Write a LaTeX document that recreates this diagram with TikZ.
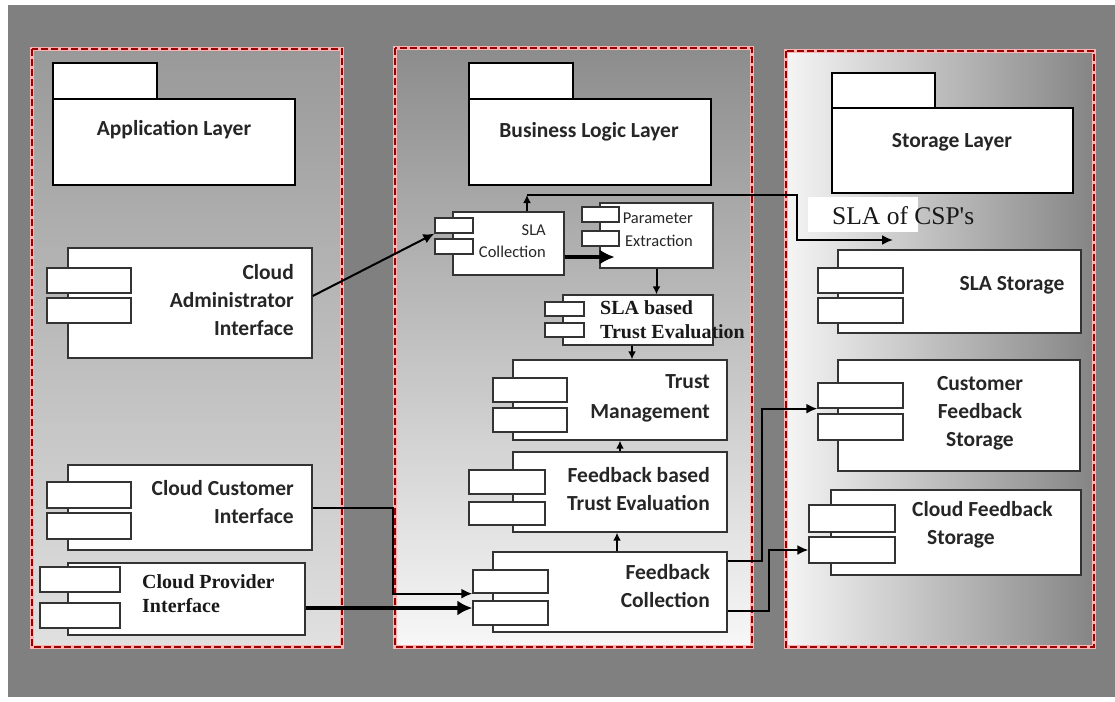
\documentclass[tikz,border=0pt]{standalone}
\usepackage{fontspec}
\setmainfont{Liberation Serif}
\setsansfont{Carlito}
\usepackage{tikz}
\usetikzlibrary{arrows.meta}

\begin{document}
\begin{tikzpicture}[x=1pt,y=-1pt,
    comp/.style={draw=black!80, fill=white, line width=1.4pt, inner sep=0pt},
    lug/.style={draw=black!80, fill=white, line width=1.3pt, inner sep=0pt},
    pkg/.style={draw=black, fill=white, line width=2.6pt, inner sep=0pt},
    layer/.style={draw=red!60!black, dash pattern=on 7pt off 3pt, line width=2.6pt},
    halo/.style={draw=white!70!red, line width=3.6pt},
    txt/.style={font=\sffamily\bfseries\fontsize{21.5}{28}\selectfont, text=black!85, inner sep=0pt},
    small/.style={font=\sffamily\fontsize{16.5}{22.5}\selectfont, text=black!85, inner sep=0pt},
    serif/.style={font=\rmfamily\bfseries\fontsize{20}{24}\selectfont, text=black!90, inner sep=0pt},
    arr/.style={line width=2pt, -{Latex[length=11pt,width=10pt]}},
    fatarr/.style={line width=3.4pt, -{Latex[length=15pt,width=15pt]}},
    tinyarr/.style={line width=2pt, -{Latex[length=8pt,width=8pt]}}]
    \useasboundingbox (0,0) rectangle (1115,701);
    \fill[white] (0,0) rectangle (1115,701);
    \fill[black!50] (8,5) rectangle (1115,697);

    % the three layers
    \shade[top color=black!40, bottom color=black!12] (32,49) rectangle (342,647);
    \draw[halo] (32,49) rectangle (342,647);
    \draw[layer] (32,49) rectangle (342,647);
    \shade[top color=black!45, bottom color=black!3] (395,48) rectangle (752,647);
    \draw[halo] (395,48) rectangle (752,647);
    \draw[layer] (395,48) rectangle (752,647);
    \shade[left color=black!4, right color=black!48] (786,51) rectangle (1094,647);
    \draw[halo] (786,51) rectangle (1094,647);
    \draw[layer] (786,51) rectangle (1094,647);

    % package headers
    \draw[pkg] (53,63) rectangle (157,99);
    \node[pkg, minimum width=242pt, minimum height=86pt] (applayer) at (174,142) {};
    \node[txt] (applayer-t) at (174,130) {Application Layer};
    \draw[pkg] (469,63) rectangle (573,99);
    \node[pkg, minimum width=242pt, minimum height=86pt] (buslayer) at (590,142) {};
    \node[txt] (buslayer-t) at (589,132) {Business Logic Layer};
    \draw[pkg] (832,73) rectangle (935,108);
    \node[pkg, minimum width=241pt, minimum height=85pt] (stolayer) at (952.5,150.5) {};
    \node[txt] (stolayer-t) at (952,142) {Storage Layer};

    % application layer components
    \node[comp, minimum width=244pt, minimum height=110pt] (admin) at (190,303) {};
    \node[lug, minimum width=84pt, minimum height=25pt] (admin-1) at (89,280.5) {};
    \node[lug, minimum width=84pt, minimum height=25pt] (admin-2) at (89,310.5) {};
    \node[txt, anchor=east, align=right] (admin-t) at (294,300) {Cloud\\Administrator\\Interface};

    \node[comp, minimum width=244pt, minimum height=85pt] (cust) at (190,507.5) {};
    \node[lug, minimum width=84pt, minimum height=26pt] (cust-1) at (89,495) {};
    \node[lug, minimum width=84pt, minimum height=26pt] (cust-2) at (89,526) {};
    \node[txt, anchor=east, align=right] (cust-t) at (294,502) {Cloud Customer\\Interface};

    \node[comp, minimum width=237pt, minimum height=72pt] (prov) at (186.5,599) {};
    \node[lug, minimum width=80pt, minimum height=25pt] (prov-1) at (80,579.5) {};
    \node[lug, minimum width=80pt, minimum height=25pt] (prov-2) at (80,615.5) {};
    \node[serif, anchor=west, align=left] (prov-t) at (142,594) {Cloud Provider\\Interface};

    % business logic components
    \node[comp, minimum width=111pt, minimum height=63pt] (slacol) at (508.5,243.5) {};
    \node[lug, minimum width=38pt, minimum height=15pt] (slacol-1) at (454,225.5) {};
    \node[lug, minimum width=38pt, minimum height=15pt] (slacol-2) at (454,246.5) {};
    \node[small, anchor=east, align=right] (slacol-t) at (546,241) {SLA\\Collection};

    \node[comp, minimum width=113pt, minimum height=65pt] (param) at (656.5,235.5) {};
    \node[lug, minimum width=37pt, minimum height=15pt] (param-1) at (600.5,214.5) {};
    \node[lug, minimum width=37pt, minimum height=15pt] (param-2) at (600.5,238.5) {};
    \node[small, anchor=east, align=right] (param-t) at (693,230) {Parameter\\Extraction};

    \node[comp, minimum width=150pt, minimum height=50pt] (slabased) at (638,320) {};
    \node[lug, minimum width=39pt, minimum height=14pt] (slabased-1) at (564.5,309) {};
    \node[lug, minimum width=39pt, minimum height=14pt] (slabased-2) at (564.5,330) {};
    \node[serif, anchor=west, align=left] (slabased-t) at (600,320) {SLA based\\Trust Evaluation};

    \node[comp, minimum width=214pt, minimum height=80pt] (trust) at (620,400) {};
    \node[lug, minimum width=74pt, minimum height=24pt] (trust-1) at (530,390) {};
    \node[lug, minimum width=74pt, minimum height=24pt] (trust-2) at (530,420) {};
    \node[txt, anchor=east, align=right, font=\sffamily\bfseries\fontsize{21.5}{30}\selectfont] (trust-t) at (710,398) {Trust\\Management};

    \node[comp, minimum width=214pt, minimum height=80pt] (fbeval) at (620,492) {};
    \node[lug, minimum width=76pt, minimum height=24pt] (fbeval-1) at (507,482) {};
    \node[lug, minimum width=76pt, minimum height=23pt] (fbeval-2) at (507,513.5) {};
    \node[txt, anchor=east, align=right] (fbeval-t) at (710,489) {Feedback based\\Trust Evaluation};

    \node[comp, minimum width=234pt, minimum height=80pt] (fbcol) at (610,592) {};
    \node[lug, minimum width=75pt, minimum height=23pt] (fbcol-1) at (510.5,581.5) {};
    \node[lug, minimum width=75pt, minimum height=24pt] (fbcol-2) at (510.5,613) {};
    \node[txt, anchor=east, align=right] (fbcol-t) at (710,586) {Feedback\\Collection};

    % storage components
    \node[comp, minimum width=243pt, minimum height=83pt] (slast) at (959.5,291.5) {};
    \node[lug, minimum width=85pt, minimum height=25pt] (slast-1) at (860.5,280.5) {};
    \node[lug, minimum width=85pt, minimum height=25pt] (slast-2) at (860.5,310.5) {};
    \node[txt] (slast-t) at (1012,285) {SLA Storage};

    \node[comp, minimum width=242pt, minimum height=111pt] (custst) at (959,415.5) {};
    \node[lug, minimum width=85pt, minimum height=25pt] (custst-1) at (860.5,395.5) {};
    \node[lug, minimum width=85pt, minimum height=26pt] (custst-2) at (860.5,427) {};
    \node[txt, align=center] (custst-t) at (980,413) {Customer\\Feedback\\Storage};

    \node[comp, minimum width=250pt, minimum height=85pt] (cfst) at (956,532.5) {};
    \node[lug, minimum width=86pt, minimum height=27pt] (cfst-1) at (852,518.5) {};
    \node[lug, minimum width=86pt, minimum height=26pt] (cfst-2) at (852,550) {};
    \node[txt, anchor=west, align=left] (cfst-t) at (912,525) {Cloud Feedback\\\hspace*{15pt}Storage};

    \fill[white] (808,197) rectangle (918,232);
    \node[font=\rmfamily\fontsize{25.5}{30}\selectfont, text=black!90, anchor=west, inner sep=0pt] (csp) at (832,216) {SLA of CSP\textquotesingle s};

    % connectors
    \coordinate (bus) at (527,195);
    \coordinate (bend) at (797,195);
    \coordinate (csp-in) at (893,240);
    \draw[arr] ([yshift=7pt]admin.east) -- (slacol-1.south west);
    \draw[tinyarr] (slacol.north -| bus) -- (bus);
    \draw[arr] (bus) -- (bend) |- (csp-in);
    \draw[fatarr] ([yshift=-13.5pt]slacol.east) -- ++(50,0);
    \draw[tinyarr] (param.south) -- (param.south |- slabased.north);
    \draw[tinyarr] ([xshift=-6pt]slabased.south) -- ([xshift=-6pt]slabased.south |- trust.north);
    \draw[tinyarr] (fbeval.north) -- (fbeval.north |- trust.south);
    \draw[tinyarr] ([xshift=7pt]fbcol.north) -- ([xshift=7pt]fbcol.north |- fbeval.south);
    \draw[arr] (cust.east) -- ++(80,0) |- (fbcol-1.south west);
    \draw[fatarr] ([yshift=-9pt]prov.east) -- ([yshift=-9pt]prov.east -| fbcol-2.west);
    \draw[arr] ([yshift=-10pt]fbcol.north east) -- ++(34,0) |- (custst-1.south west);
    \draw[arr] ([yshift=22pt]fbcol.south east) -- ++(41,0) |- (cfst-2.west);
\end{tikzpicture}
\end{document}
